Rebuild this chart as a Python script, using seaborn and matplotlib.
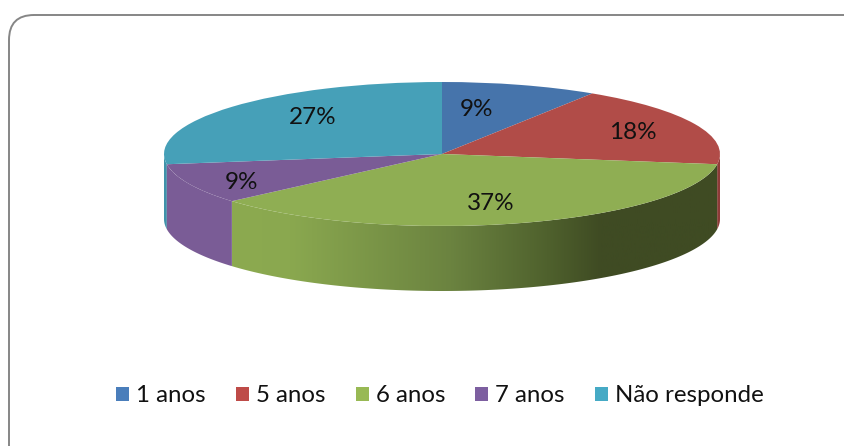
"""3D looking pie chart - answers by age group"""
import numpy as np
import matplotlib
matplotlib.use('Agg')
import matplotlib.pyplot as plt
from matplotlib.colors import LinearSegmentedColormap
from matplotlib.patches import FancyBboxPatch, Polygon
import seaborn as sns

# Data - 11 answers, the percentages are rounded
labels = ['1 anos', '5 anos', '6 anos', '7 anos', 'Não responde']
values = [1, 2, 4, 1, 3]
pct_labels = ['9%', '18%', '37%', '9%', '27%']

# Style
top_colors = ['#4674AB', '#B14C48', '#8FAE53', '#7A5C96', '#46A0B8']
legend_colors = ['#4A7EBB', '#BE4B48', '#98B954', '#7D5FA0', '#46AAC5']
wall_colors = ['#4674AB', '#8E3B38', '#8CAA50', '#7A5C96', '#3F93AA']
label_xy = [(477, 109), (633, 132), (491, 203), (241, 182), (313, 117)]

W, H = 845, 446
CX, CY, RX, RY, DEPTH = 442, 154, 278, 72, 65

sns.set_theme(style='white')
plt.rcParams['font.family'] = ['Lato', 'DejaVu Sans']

fig = plt.figure(figsize=(W / 100, H / 100), dpi=100)

# background frame in pixel coordinates
bg = fig.add_axes([0, 0, 1, 1])
bg.set_xlim(0, W)
bg.set_ylim(H, 0)
bg.axis('off')
bg.add_patch(FancyBboxPatch((34, 40), W + 60, H + 60,
                            boxstyle='round,pad=25,rounding_size=25',
                            fc='white', ec='#868686', lw=1.4))


def ellipse_xy(a, b, n=120):
    # angles are clockwise from the top, like the pie
    t = np.radians(np.linspace(a, b, n))
    return CX + RX * np.sin(t), CY - RY * np.cos(t)


edges = np.cumsum([0] + values) / sum(values) * 360

# outer wall, only the front half (90 to 270 degrees) can be seen
for i in [1, 4, 3, 2]:
    a, b = max(edges[i], 90), min(edges[i + 1], 270)
    if a >= b:
        continue
    x, y = ellipse_xy(a, b)
    pts = np.r_[np.c_[x, y], np.c_[x[::-1], y[::-1] + DEPTH]]
    if i == 2:
        # the green wall has the dark gradient
        cmap = LinearSegmentedColormap.from_list(
            'wall', [(0, '#8CAA50'), (0.12, '#8AA84F'), (0.45, '#6B8340'),
                     (0.65, '#4F612D'), (0.76, '#3F4B23'), (1, '#3F4B23')])
        im = bg.imshow(np.linspace(0, 1, 256)[None, :], cmap=cmap, aspect='auto',
                       extent=(x.min(), x.max(), H, 0), zorder=2)
        bg.set_xlim(0, W)
        bg.set_ylim(H, 0)
        poly = Polygon(pts, closed=True, transform=bg.transData, fc='none', ec='none')
        bg.add_patch(poly)
        im.set_clip_path(poly)
    else:
        bg.add_patch(Polygon(pts, closed=True, fc=wall_colors[i], ec='none', zorder=2))

# top of the pie: a normal pie squeezed by the axes limits
ax = fig.add_axes([0, 0, 1, 1])
ax.patch.set_alpha(0)
wedges, _ = ax.pie(values, startangle=90, counterclock=False, colors=top_colors,
                   radius=1, center=(0, 0), frame=True,
                   wedgeprops={'linewidth': 0})
ax.set_aspect('auto')
ax.set_xlim(-CX / RX, (W - CX) / RX)
ax.set_ylim((CY - H) / RY, CY / RY)
ax.set_xticks([])
ax.set_yticks([])
sns.despine(ax=ax, left=True, bottom=True)

for text, (px, py) in zip(pct_labels, label_xy):
    ax.text((px - CX) / RX, (CY - py) / RY, text, ha='center', va='center',
            fontsize=17.5, color='#111111')

# legend
handles = [plt.Rectangle((0, 0), 1, 1, fc=c, ec='none') for c in legend_colors]
leg = ax.legend(handles, labels, ncol=5, frameon=False, fontsize=17.3,
                loc='center', bbox_to_anchor=(440 / W, 1 - 396 / H),
                handlelength=0.54, handleheight=0.54, handletextpad=0.3,
                columnspacing=1.25, labelcolor='#111111')

fig.savefig('out.png', dpi=100)
